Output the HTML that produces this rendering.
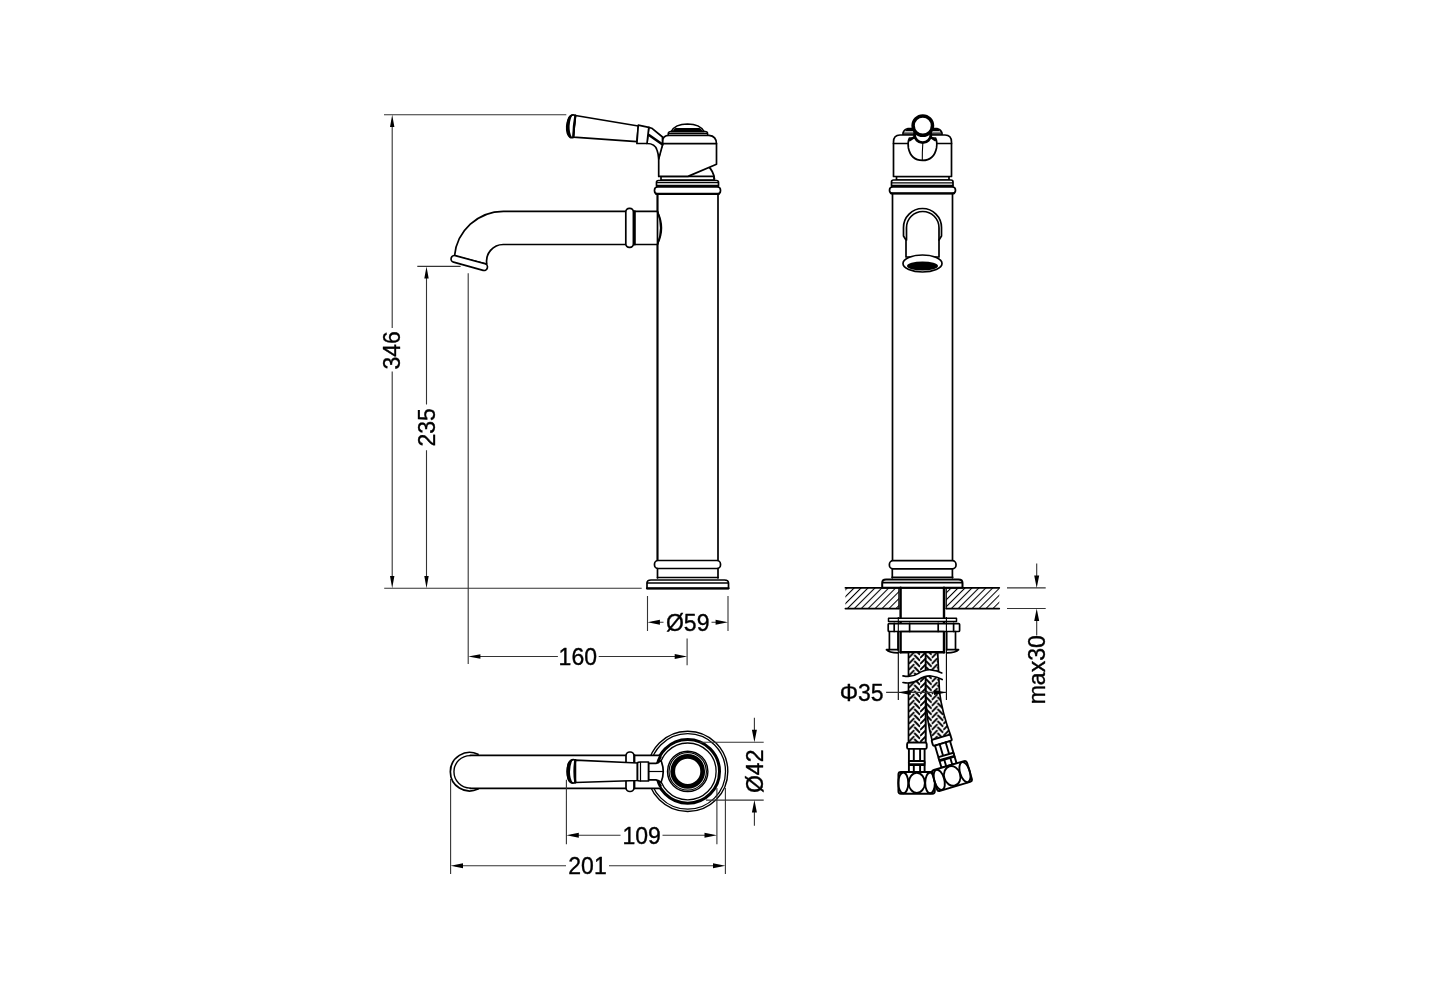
<!DOCTYPE html>
<html><head><meta charset="utf-8">
<style>
html,body{margin:0;padding:0;background:#fff;width:1430px;height:1000px;overflow:hidden}
svg{display:block;will-change:transform}
.o{fill:none;stroke:#000;stroke-width:1.7;stroke-linejoin:round;stroke-linecap:round}
.w{fill:#fff;stroke:#000;stroke-width:1.7;stroke-linejoin:round}
.t{fill:none;stroke:#000;stroke-width:1.1}
.d{fill:none;stroke:#333;stroke-width:1.1}
.a{fill:#000;stroke:none}
text{font-family:"Liberation Sans",sans-serif;font-size:23px;fill:#000;stroke:#000;stroke-width:0.35;stroke-linejoin:round}
</style></head><body>
<svg width="1430" height="1000" viewBox="0 0 1430 1000">
<defs>
<pattern id="hatch" patternUnits="userSpaceOnUse" width="4.9" height="4.9" patternTransform="rotate(45)">
<line x1="0" y1="0" x2="0" y2="4.9" stroke="#000" stroke-width="2.1"/>
</pattern>
<pattern id="braid" patternUnits="userSpaceOnUse" x="908.5" y="652" width="11.6" height="6">
<rect width="11.6" height="6" fill="#fff"/>
<path d="M0,6 L5.8,0.2 M0,0 L-1,1 M5.8,6.2 L4.8,7.2 M5.8,-5.8 L4.8,-4.8 M0,12 L5.8,6.2 M5.8,3 L8.8,6 M8.8,0 L11.6,2.8 M5.8,-3 L8.8,0 M8.8,6 L11.6,8.8" fill="none" stroke="#000" stroke-width="1.9"/>
</pattern>
</defs>
<rect width="1430" height="1000" fill="#fff"/>

<!-- ============ LEFT VIEW (side) ============ -->
<g id="left">
<!-- body -->
<path class="o" d="M657.5,194 V560.5 M718,194 V560.5"/>
<!-- top collars -->
<path class="w" d="M661,176.4 H714 V180 H661 Z"/>
<rect class="w" x="656.5" y="180.5" width="62" height="6.5" rx="2"/>
<path class="o" d="M657,186 H718" style="stroke-width:2.4"/>
<path class="o" d="M657.5,182.6 H718" style="stroke-width:1.2"/>
<rect class="w" x="654.5" y="187" width="66" height="7" rx="3.2"/>
<path class="o" d="M656,193.8 H719" style="stroke-width:2.2"/>
<!-- dome behind handle -->
<path class="o" d="M708,166 Q713.5,171 714.5,179"/>
<!-- handle head -->
<path class="w" d="M658.7,176.4 V159 Q660,150 662.5,145 V141 Q662.8,135.4 669,135.3 H709 Q716.5,135.8 716.5,144 V164.2 L688,176.4 Z"/>
<path class="o" d="M662.5,143.6 H716.5"/>
<!-- dome top -->
<path class="w" d="M668.2,135.2 V133.5 Q668.5,131.4 671,131.4 H705 Q707.6,131.4 707.6,133.5 V135.2 Z" style="stroke-width:1.5"/>
<path class="o" d="M669,133.3 H707" style="stroke-width:1.2"/>
<path class="w" d="M671.3,131.4 Q675,124.2 687.5,124 Q700,124.2 704,131.4 Z" style="stroke-width:1.5"/>
<path d="M672.5,131.4 Q673.5,129.5 675.5,128.1 H699.5 Q701.8,129.5 702.8,131.4 Z" fill="#000"/>
<!-- lever neck -->
<path class="w" d="M647,143.5 Q655,143.5 657,150 Q658.5,154 658.7,159 L662.5,145 V137 L651.7,128.2 L648.8,127.4 Z"/>
<path class="o" d="M648.2,134.5 L662.2,144.3" style="stroke-width:2.6"/>
<!-- lever body -->
<path class="w" d="M575.4,115.5 L638.3,126 L636.9,141.7 L573.3,137.2 Z"/>
<path class="w" d="M638.3,125.2 L648.8,127.4 L647,143.5 L636.9,143.5 Z"/>
<path class="w" d="M575.4,115.5 Q571,113.5 568.5,119 Q565.5,126 567.5,133.5 Q569.5,139 573.3,137.2 Z"/>
<path class="a" d="M573,114.6 Q569,114.5 567.3,120 Q565.3,126.5 567,133 Q568.8,138.5 572.2,137.8 Q569.3,133 569.6,126 Q570,118.5 573,114.6 Z"/>
<path class="o" d="M575.4,115.5 Q573.5,126 573.3,137.2" style="stroke-width:2.2"/>
<!-- spout -->
<path class="w" d="M657.5,211.3 H503.4 A49.2,49.2 0 0 0 454.5,256 L486.8,264 A16.7,16.7 0 0 1 503.4,244.5 H657.5 Q664,228 657.5,211.3 Z"/>
<path class="o" d="M657.5,194 V560.5"/>
<path class="o" d="M657.5,211.8 Q665.5,228 657.5,244.2" style="stroke-width:1.5"/>
<rect class="w" x="625.8" y="208.4" width="7.6" height="38.9" rx="3.5"/>
<path class="o" d="M634.8,211.3 V244.5" style="stroke-width:2"/>
<rect class="w" x="450.5" y="259.6" width="37.5" height="6.8" rx="3.4" transform="rotate(15.4 469.3 263)"/>
<!-- bottom collar and base -->
<rect class="w" x="654.5" y="560.5" width="66" height="8" rx="3.6"/>
<path class="o" d="M657.5,568.5 V578 M718,568.5 V578"/>
<path class="o" d="M657.5,577.5 H718" style="stroke-width:1.6"/>
<path class="w" d="M647,588.5 V583 Q647,580 651,580 H724.5 Q728.5,580 728.5,583 V588.5 Z"/>
<path class="o" d="M647.5,583 H728"/>
<path class="o" d="M647,588.3 H728.5" style="stroke-width:2.2"/>
</g>

<!-- ============ RIGHT VIEW (front) ============ -->
<g id="right">
<path class="o" d="M892.5,193.5 V560.7 M952.5,193.5 V560.7"/>
<!-- collars -->
<path class="w" d="M896.5,176.5 H949 V180 H896.5 Z"/>
<rect class="w" x="891.5" y="180" width="61.5" height="7" rx="2"/>
<path class="o" d="M892,186 H952.5" style="stroke-width:2.4"/>
<path class="o" d="M892,182.8 H952.5" style="stroke-width:1.2"/>
<rect class="w" x="889.5" y="187" width="66" height="6.5" rx="3.2"/>
<path class="o" d="M891,193.3 H954" style="stroke-width:2.2"/>
<!-- shoulders -->
<path class="w" d="M903,135 V133 Q904,129.5 908,128.5 H937 Q941,129.5 942,133 V135 Z"/>
<path d="M905,131.3 Q906.5,128.5 909.5,128.3 H935.5 Q938.5,128.5 940,131.3 Z" fill="#000"/>
<path class="o" d="M904,133.2 H941" style="stroke-width:1.2"/>
<!-- head -->
<path class="w" d="M893.5,176.5 V142 Q893.5,135 900,135 H945 Q951.5,135 951.5,142 V176.5 Z"/>
<path class="o" d="M893.5,143.5 H951.5"/>
<!-- shield -->
<path class="w" d="M909.5,138 Q907.5,142 908.4,148 Q911,160.4 922.5,160.4 Q934,160.4 936.5,148 Q937.5,142 935.5,138 Z"/>
<path class="t" d="M922.8,143.5 Q922.2,152 922.3,160"/>
<path class="o" d="M910,140 L914.5,137 M935,140 L930.5,137" style="stroke-width:2.4"/>
<!-- neck collar ring -->
<circle cx="922.7" cy="134.5" r="8.2" fill="#fff" stroke="#000" stroke-width="2.8"/>
<!-- lever end ring -->
<circle cx="922.8" cy="125.6" r="9.7" fill="#fff" stroke="#000" stroke-width="3.5"/>
<!-- spout opening -->
<path class="w" d="M903.5,236 V227.5 A19,19 0 0 1 941.5,227.5 V236 L939,240 V257 H906 V240 Z"/>
<path class="o" d="M906.5,240 V227.75 A16.25,16.25 0 0 1 939,227.75 V240"/>
<ellipse class="w" cx="922.5" cy="263.5" rx="19.5" ry="8.5"/>
<ellipse cx="922.5" cy="266" rx="15.5" ry="4.6" fill="#000"/>
<!-- bottom collar & base -->
<rect class="w" x="889.4" y="560.7" width="66.6" height="8.1" rx="3.6"/>
<path class="o" d="M892.3,568.8 V577.8 M952.4,568.8 V577.8"/>
<path class="o" d="M892,577.3 H952.8" style="stroke-width:1.6"/>
<path class="w" d="M882.2,587.8 V583 Q882.2,579.6 886,579.6 H958.5 Q962.5,579.6 962.5,583 V587.8 Z" style="stroke-width:2"/>
<path class="o" d="M883,582.6 H962"/>
<!-- counter -->
<rect x="845.4" y="587.8" width="53.5" height="20.8" fill="url(#hatch)"/>
<rect x="946.2" y="587.8" width="53.1" height="20.8" fill="url(#hatch)"/>
<path class="o" d="M845.4,587.8 H999.3 M845.4,608.6 H898.9 M946.2,608.6 H999.3"/>
<path class="o" d="M898.9,587.8 V608.6 M946.2,587.8 V608.6" style="stroke-width:1.3"/>
<!-- stem -->
<path class="o" d="M900.6,587.8 V652.2 M944,587.8 V652.2" style="stroke-width:2.4"/>
<!-- nut -->
<rect class="w" x="888.5" y="618.3" width="68" height="3.3" style="stroke-width:1.5"/>
<rect class="w" x="888.2" y="623.6" width="71.4" height="7.9" rx="1"/>
<path class="o" d="M894.2,623.3 V631.5 M909.6,623.3 V631.5 M938.2,623.3 V631.5 M953.6,623.3 V631.5"/>
<path class="o" d="M889.4,631.5 V649.7 M898,631.5 V649.7 M946.7,631.5 V649.7 M955.5,631.5 V649.7"/>
<path class="o" d="M900.6,631.5 H944"/>
<path class="o" d="M886.5,649.7 Q889,652.8 898,652.8 M946.7,652.8 Q956,652.8 958.5,649.7 M886.5,649.7 H898 M946.7,649.7 H958.5"/>
<path class="o" d="M900.6,652.2 H944" style="stroke-width:2.4"/>
<!-- hoses -->
<path d="M908.5,652.5 V742.6 H925.7 V652.5 Z" class="o" style="fill:url(#braid)"/>
<path d="M925.7,652.5 V695 Q926.5,720 932,740 L950.5,735 Q942,712 939.5,692 L937.7,652.5 Z" class="o" style="fill:url(#braid)"/>
<path d="M900,676 Q912,677.8 918,673.6 Q925,669.2 931,669.8 Q937,670.5 944,673.5 L944,680 Q937,676.5 931,676 Q925,675.6 918,680 Q912,684.2 900,682.5 Z" fill="#fff" stroke="none"/>
<path class="o" d="M903,675.8 Q912,677.6 918,673.6 Q925,669.2 931,669.8 Q937,670.5 941.8,672.9 M903,682.5 Q912,684.2 918,680 Q925,675.6 931,676 Q937,676.5 942.2,679.6"/>
<path class="o" d="M925.6,684 V742.6" style="stroke-width:1.5"/>
<!-- left fitting -->
<g id="fit">
<rect class="w" style="stroke-width:1.9" x="907.1" y="742.6" width="19.6" height="6.3" rx="1.5"/>
<path class="w" style="stroke-width:1.9" d="M908.9,748.9 V772 H924.6 V748.9 Z"/>
<path class="o" style="stroke-width:1.9" d="M913.8,748.9 V772 M920.1,748.9 V772"/>
<rect class="w" style="stroke-width:1.9" x="908.9" y="761" width="15.7" height="3.2" rx="1"/>
<path class="o" style="stroke-width:1.9" d="M909,765 H924.5" style="stroke-width:1.2"/>
<rect class="w" style="stroke-width:1.9" x="898.4" y="772" width="36.4" height="21.7" rx="2.5"/>
<ellipse class="o" style="stroke-width:1.9" cx="903.3" cy="782.9" rx="5" ry="10.4"/>
<ellipse class="o" style="stroke-width:1.9" cx="916.8" cy="782.9" rx="8.1" ry="10"/>
<ellipse class="o" style="stroke-width:1.9" cx="930.1" cy="782.9" rx="4.9" ry="10.4"/>
</g>
<g transform="translate(35.4,-6.9) rotate(-16.5 916.6 782.9)">
<rect class="w" style="stroke-width:1.9" x="907.1" y="742.6" width="19.6" height="6.3" rx="1.5"/>
<path class="w" style="stroke-width:1.9" d="M908.9,748.9 V772 H924.6 V748.9 Z"/>
<path class="o" style="stroke-width:1.9" d="M913.8,748.9 V772 M920.1,748.9 V772"/>
<rect class="w" style="stroke-width:1.9" x="908.9" y="761" width="15.7" height="3.2" rx="1"/>
<path class="o" style="stroke-width:1.9" d="M909,765 H924.5" style="stroke-width:1.2"/>
<rect class="w" style="stroke-width:1.9" x="898.4" y="772" width="36.4" height="21.7" rx="2.5"/>
<ellipse class="o" style="stroke-width:1.9" cx="903.3" cy="782.9" rx="5" ry="10.4"/>
<ellipse class="o" style="stroke-width:1.9" cx="916.8" cy="782.9" rx="8.1" ry="10"/>
<ellipse class="o" style="stroke-width:1.9" cx="930.1" cy="782.9" rx="4.9" ry="10.4"/>
</g>
<!-- extension lines for phi35 -->
<path class="t" d="M898.3,617 V700 M946.4,617 V700"/>
</g>

<!-- ============ PLAN VIEW ============ -->
<g id="plan">
<!-- circles -->
<circle class="w" cx="687.7" cy="771.4" r="40.1" style="stroke-width:1.4"/>
<circle class="t" cx="687.7" cy="771.4" r="37.8" style="stroke-width:1.3"/>
<circle cx="687.7" cy="771.4" r="31.8" fill="none" stroke="#000" stroke-width="3"/>
<circle class="t" cx="687.7" cy="771.4" r="28.4" style="stroke-width:1.3"/>
<circle class="t" cx="687.7" cy="771.4" r="20.2" style="stroke-width:1.4"/>
<circle class="t" cx="687.7" cy="771.4" r="18.7" style="stroke-width:1.2"/>
<circle cx="687.7" cy="771.4" r="15" fill="#fff" stroke="#000" stroke-width="4.8"/>
<!-- spout -->
<path class="w" d="M478,754.5 A19.3,19.3 0 1 0 478,789.1 H626 V754.5 Z" style="stroke:none"/>
<path class="o" d="M478,754.3 A19.3,19.3 0 1 0 478,789.1"/>
<path class="o" d="M470.2,755.6 A16.2,16.2 0 0 0 470.2,788.1" style="stroke-width:1.4"/>
<path class="o" d="M470.2,755.3 H626 M470.2,788.3 H626"/>
<path d="M633.8,755.3 H660 V788.3 H633.8 Z" fill="#fff"/>
<path class="o" d="M633.8,755.3 H660 M633.8,788.3 H660"/>
<path d="M660.6,756 A31.8,31.8 0 0 0 660.6,786.8" fill="none" stroke="#000" stroke-width="3"/>
<rect class="w" x="626" y="752" width="8" height="39.5" rx="3.8"/>
<path class="o" d="M634.6,755 V788.5" style="stroke-width:1.6"/>
<!-- neck -->
<path class="w" d="M648.5,763.3 H656 Q659,762.8 661,760.5 Q665.5,771.5 661,782.5 Q659,780.3 656,779.8 H648.5 Z"/>
<path class="t" d="M648.5,771.5 H664" style="stroke-width:1.2"/>
<!-- lever -->
<path class="w" d="M575.3,760.1 L637.5,763 V780.5 L575.3,782.5 Z"/>
<path class="w" d="M637.5,762.8 Q638,762 640,762 H648.5 V781 H640 Q638,781 637.5,780.3 Z"/>
<path class="o" d="M640.5,762.5 V781" style="stroke-width:1.2"/>
<path class="w" d="M575.3,760.1 Q571,758.5 568.5,763.5 Q566,771.5 568.5,779.5 Q571,784.5 575.3,782.5 Z"/>
<path class="a" d="M573,759.4 Q569,759.3 567.3,764.5 Q565.6,771.5 567.3,778.5 Q569,783.8 573,783.2 Q569.8,778.5 570,771.5 Q570.2,764 573,759.4 Z"/>
<path class="o" d="M575.3,760.1 Q573.6,771.5 575.3,782.5" style="stroke-width:2.2"/>
</g>

<!-- ============ DIMENSIONS ============ -->
<g id="dims">
<!-- extension lines left view -->
<path class="d" d="M384,114.8 H566.3 M417.3,266.4 H460.6 M384.2,588.2 H641.7 M468.2,273.3 V664 M687.1,638.4 V665.2 M647.5,596 V631 M728,596 V631"/>
<!-- 346 -->
<path class="d" d="M392.2,120 V328 M392.2,371.5 V582"/>
<path class="a" d="M392.2,114.8 L390,127 H394.4 Z M392.2,588.2 L390,576 H394.4 Z"/>
<text transform="translate(400.3,350.4) rotate(-90)" text-anchor="middle">346</text>
<!-- 235 -->
<path class="d" d="M426.5,272 V404.5 M426.5,450.2 V582"/>
<path class="a" d="M426.5,266.4 L424.3,278.6 H428.7 Z M426.5,588.2 L424.3,576 H428.7 Z"/>
<text transform="translate(435.2,427.3) rotate(-90)" text-anchor="middle">235</text>
<!-- 160 -->
<path class="d" d="M473,656.5 H557.9 M598.7,656.5 H682"/>
<path class="a" d="M468.2,656.5 L480.4,654.3 V658.7 Z M687.1,656.5 L674.7,654 V659 Z"/>
<text x="577.8" y="664.9" text-anchor="middle">160</text>
<!-- 59 -->
<path class="d" d="M652,622.2 H663.5 M711.5,622.2 H723"/>
<path class="a" d="M647.5,622.2 L659.9,619.7 V624.7 Z M728,622.2 L715.6,619.7 V624.7 Z"/>
<text x="687.7" y="630.6" text-anchor="middle">Ø59</text>
<!-- plan extension -->
<path class="d" d="M450.6,779 V874 M566.4,779.7 V844.3 M716.9,788 V844.3 M725.4,788 V874 M700,742.3 H763.7 M706,800.1 H763.7"/>
<!-- 109 -->
<path class="d" d="M571,835.3 H620.5 M662.5,835.3 H712"/>
<path class="a" d="M566.4,835.3 L578.8,832.8 V837.8 Z M716.9,835.3 L704.5,832.8 V837.8 Z"/>
<text x="641.6" y="843.7" text-anchor="middle">109</text>
<!-- 201 -->
<path class="d" d="M455,865.7 H566 M609,865.7 H721"/>
<path class="a" d="M450.6,865.7 L463,863.2 V868.2 Z M725.4,865.7 L713,863.2 V868.2 Z"/>
<text x="587.5" y="874.1" text-anchor="middle">201</text>
<!-- 42 -->
<path class="d" d="M754.4,717.8 V735 M754.4,807 V825.7"/>
<path class="a" d="M754.4,742.2 L751.9,729.8 H756.9 Z M754.4,800.1 L751.9,812.5 H756.9 Z"/>
<text transform="translate(762.8,771.3) rotate(-90)" text-anchor="middle">Ø42</text>
<!-- max30 -->
<path class="d" d="M1007,587.9 H1045.7 M1007,608.5 H1045.7 M1036.7,563.5 V581 M1036.7,615 V635.6"/>
<path class="a" d="M1036.7,587.9 L1034.2,575.5 H1039.2 Z M1036.7,608.5 L1034.2,620.9 H1039.2 Z"/>
<text transform="translate(1045.1,669.8) rotate(-90)" text-anchor="middle">max30</text>
<!-- phi35 -->
<path class="d" d="M886.1,692.4 H946.4"/>
<path class="a" d="M898.3,692.4 L910.7,689.9 V694.9 Z M946.4,692.4 L934,689.9 V694.9 Z"/>
<text x="839.7" y="700.6">Φ35</text>
</g>
</svg>
</body></html>
